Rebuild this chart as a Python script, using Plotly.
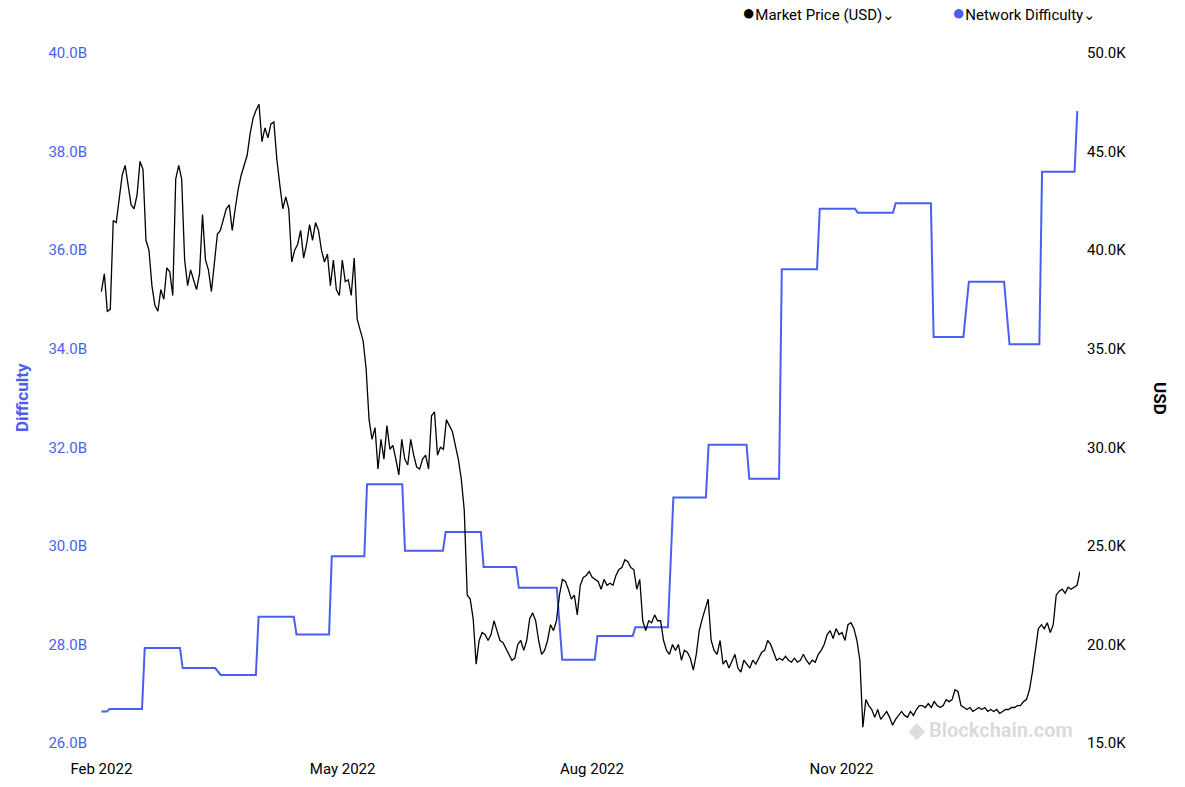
import plotly.graph_objects as go
import pandas as pd

diff_dates = ["2022-02-01","2022-02-03","2022-02-04","2022-02-16","2022-02-17","2022-03-02","2022-03-03",
 "2022-03-15","2022-03-17","2022-03-30","2022-03-31","2022-04-13","2022-04-14","2022-04-26","2022-04-27",
 "2022-05-09","2022-05-10","2022-05-23","2022-05-24","2022-06-07","2022-06-08","2022-06-21","2022-06-22",
 "2022-07-04","2022-07-05","2022-07-19","2022-07-21","2022-08-02","2022-08-03","2022-08-16","2022-08-17",
 "2022-08-29","2022-08-31","2022-09-12","2022-09-13","2022-09-27","2022-09-28","2022-10-09","2022-10-10",
 "2022-10-23","2022-10-24","2022-11-06","2022-11-07","2022-11-20","2022-11-21","2022-12-04","2022-12-05",
 "2022-12-16","2022-12-18","2022-12-31","2023-01-02","2023-01-13","2023-01-14","2023-01-26","2023-01-27"]
diff_vals = [26.64,26.64,26.69,26.69,27.93,27.93,27.52,27.52,27.38,27.38,28.56,28.56,28.20,28.20,29.79,
 29.79,31.25,31.25,29.90,29.90,30.28,30.28,29.57,29.57,29.15,29.15,27.69,27.69,28.17,28.17,28.35,
 28.35,30.98,30.98,32.05,32.05,31.36,31.36,35.61,35.61,36.84,36.84,36.76,36.76,36.95,36.95,34.24,
 34.24,35.36,35.36,34.09,34.09,37.59,37.59,38.82]
diff_vals = [v * 1e9 for v in diff_vals]

price_k = [37.9,38.8,36.9,37.0,41.5,41.4,42.6,43.8,44.3,43.3,42.3,42.1,42.8,44.5,44.1,40.5,40.0,38.2,37.2,
 36.9,38.0,37.5,39.1,38.9,37.7,43.6,44.3,43.6,39.5,38.2,39.0,38.5,38.0,38.8,41.8,39.5,39.0,37.9,39.3,
 40.8,41.0,41.5,42.1,42.3,41.0,42.1,43.1,43.8,44.3,44.8,45.9,46.7,47.1,47.4,45.5,46.2,45.7,46.4,46.5,
 44.6,43.3,42.1,42.7,42.1,39.4,40.0,40.3,41.0,39.6,40.3,41.3,40.5,41.4,41.0,40.0,39.4,39.8,38.2,39.5,
 38.0,37.7,39.5,38.4,38.5,37.7,39.6,36.5,36.0,35.4,34.0,31.4,30.4,31.0,28.9,30.4,29.4,31.1,29.9,30.1,
 29.4,28.6,30.4,29.4,29.1,30.4,29.6,29.0,28.9,29.4,29.6,28.9,31.6,31.8,29.6,30.0,29.9,31.4,31.1,30.8,
 30.1,29.4,28.4,26.8,22.5,22.3,21.3,19.0,20.2,20.6,20.5,20.2,20.5,21.2,20.7,20.2,20.1,19.8,19.5,19.2,
 19.3,20.0,20.2,19.7,20.2,21.3,21.6,21.2,20.2,19.5,19.7,20.2,21.0,20.7,21.2,22.5,23.3,23.2,22.8,22.3,
 22.5,21.5,23.0,23.4,23.5,23.7,23.4,23.3,23.2,22.8,23.3,23.0,23.1,23.0,23.5,23.8,23.9,24.3,24.2,23.9,
 23.8,22.8,23.3,21.2,20.7,21.2,21.1,21.5,21.2,21.2,20.2,19.7,19.5,20.0,19.7,20.0,19.2,19.7,19.6,19.3,
 18.7,19.5,20.7,21.3,21.8,22.3,20.2,19.7,19.5,20.2,19.0,19.2,18.8,19.2,19.5,18.8,18.6,19.2,19.0,18.8,
 19.2,19.0,19.3,19.6,19.7,20.2,20.0,19.6,19.2,19.3,19.2,19.4,19.2,19.1,19.3,19.1,19.2,19.5,19.2,19.0,
 19.2,19.1,19.5,19.7,20.0,20.5,20.7,20.3,20.8,20.5,20.6,20.2,21.0,21.1,20.8,20.2,19.2,15.8,17.2,16.9,
 16.7,16.3,16.7,16.2,16.4,16.6,16.3,15.9,16.2,16.4,16.6,16.4,16.3,16.6,16.4,16.7,16.9,16.9,16.8,17.0,
 16.8,17.1,16.9,16.8,16.9,17.2,17.1,17.2,17.7,17.6,16.9,16.8,16.7,16.8,16.6,16.7,16.8,16.7,16.8,16.6,
 16.7,16.6,16.7,16.5,16.6,16.7,16.7,16.8,16.8,16.9,16.9,17.1,17.2,17.7,18.6,19.7,20.8,21.0,20.8,21.1,
 20.6,21.0,22.5,22.7,22.8,22.6,22.9,22.8,22.9,23.0,23.7]
price = [v * 1000 for v in price_k]
price_dates = pd.date_range("2022-02-01", "2023-01-28", periods=len(price))

BLUE = "#4a5ff0"
fig = go.Figure()
fig.add_trace(go.Scatter(x=diff_dates, y=diff_vals, mode="lines", line=dict(color=BLUE, width=2),
                         name="Network Difficulty", yaxis="y"))
fig.add_trace(go.Scatter(x=price_dates, y=price, mode="lines", line=dict(color="#000000", width=1.3),
                         name="Market Price (USD)", yaxis="y2"))

font = "Roboto, Arial, sans-serif"
fig.update_layout(
    width=1185, height=787, paper_bgcolor="white", plot_bgcolor="white",
    margin=dict(l=92, r=113, t=45, b=52), showlegend=False,
    font=dict(family=font, size=15, color="#000"),
    xaxis=dict(range=["2022-01-31 12:00", "2023-01-28"], showgrid=False, dtick="M3",
               tick0="2022-02-01", tickformat="%b %Y", ticks="", showline=False, zeroline=False,
               ticklabelstandoff=15),
    yaxis=dict(range=[26e9, 40e9], showgrid=False, zeroline=False,
               tickfont=dict(color=BLUE), ticklabelstandoff=12,
               tickvals=[v * 1e9 for v in range(26, 41, 2)],
               ticktext=[f"{v}.0B" for v in range(26, 41, 2)]),
    yaxis2=dict(range=[15000, 50000], overlaying="y", side="right", showgrid=False, zeroline=False,
                ticklabelstandoff=6,
                tickvals=list(range(15000, 50001, 5000)),
                ticktext=[f"{v}.0K" for v in range(15, 51, 5)]),
)
def px(sx): return (sx - 100) / 980
def py(sy): return (743 - sy) / 690

fig.add_annotation(x=px(22), y=0.5, xref="paper", yref="paper", text="<b>Difficulty</b>", textangle=-90,
                   xanchor="center", showarrow=False, font=dict(color=BLUE, size=17))
fig.add_annotation(x=px(1160), y=0.5, xref="paper", yref="paper", text="<b>USD</b>", textangle=90,
                   xanchor="center", showarrow=False, font=dict(color="#000", size=17))
fig.add_annotation(x=px(740), y=py(12), xref="paper", yref="paper", showarrow=False, xanchor="left",
                   yanchor="middle",
                   text="<span style='font-size:22px'>●</span>Market Price (USD)⌄", font=dict(size=15))
fig.add_annotation(x=px(950), y=py(12), xref="paper", yref="paper", showarrow=False,
                   xanchor="left", yanchor="middle",
                   text="<span style='font-size:22px;color:#4a5ff0'>●</span>Network Difficulty⌄",
                   font=dict(size=15))
fig.add_annotation(x=px(1075), y=py(730), xref="paper", yref="paper", showarrow=False,
                   xanchor="right", yanchor="middle", text="<b>◈ Blockchain.com</b>",
                   font=dict(size=20, color="rgba(150,150,150,0.35)"))
fig.write_html("out.html")
